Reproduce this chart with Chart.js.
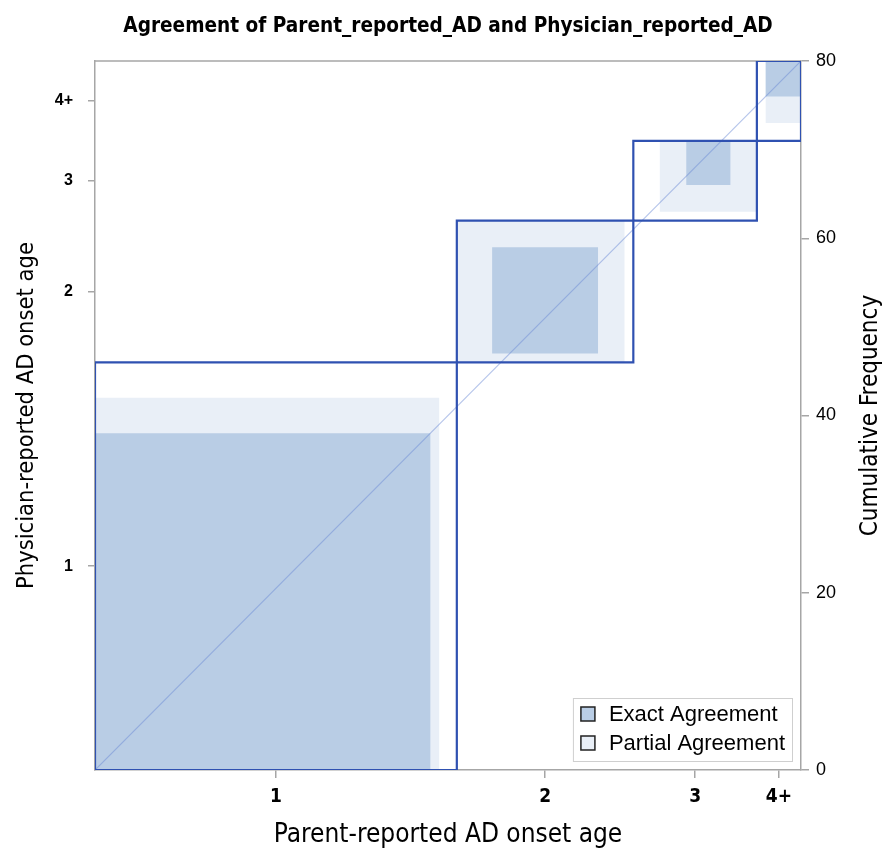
<!DOCTYPE html>
<html>
<head>
<meta charset="utf-8">
<script src="https://cdn.jsdelivr.net/npm/chart.js@4.4.1/dist/chart.umd.min.js"></script>
<style>
  html, body { margin: 0; padding: 0; background: #ffffff; }
  #wrap { width: 885px; height: 851px; }
</style>
</head>
<body>
<div id="wrap"><canvas id="chart" width="885" height="851"></canvas></div>
<script>
// Onset-age categories shared by both raters
const categories = ['1', '2', '3', '4+'];

// Cross-tabulated counts: one array per physician-reported category,
// entries ordered by parent-reported category 1, 2, 3, 4+
const physician1 = [38, 4, 3, 1];
const physician2 = [1, 12, 3, 0];
const physician3 = [1, 3, 5, 0];
const physician4 = [1, 1, 3, 4];

// Cumulative frequency ticks on the right axis
const freqTicks = [0, 20, 40, 60, 80];

const titleText = 'Agreement of Parent_reported_AD and Physician_reported_AD';
const xTitle = 'Parent-reported AD onset age';
const yTitle = 'Physician-reported AD onset age';
const y2Title = 'Cumulative Frequency';
const legendLabels = ['Exact Agreement', 'Partial Agreement'];

const NARROW = '"Liberation Sans Narrow", "DejaVu Sans Condensed", "Liberation Sans", sans-serif';
const SANS = '"Liberation Sans", Arial, sans-serif';

const COLOR_EXACT = '#b9cde5';
const COLOR_PARTIAL = '#e9eff7';
const COLOR_RECT = '#2f51b1';
const COLOR_AXIS = '#a6a6a6';

// ---- derived layout of the agreement chart ----
const table = [physician1, physician2, physician3, physician4];
const n = categories.length;
const rowTotals = table.map(r => r.reduce((a, b) => a + b, 0));                  // physician (y)
const colTotals = categories.map((_, j) => table.reduce((a, r) => a + r[j], 0)); // parent (x)
const total = rowTotals.reduce((a, b) => a + b, 0);

const xStart = [], yStart = [];
let cx = 0, cy = 0;
for (let i = 0; i < n; i++) {
  xStart.push(cx); yStart.push(cy);
  cx += colTotals[i]; cy += rowTotals[i];
}
const xMid = categories.map((_, i) => xStart[i] + colTotals[i] / 2);
const yMid = categories.map((_, i) => yStart[i] + rowTotals[i] / 2);

function box(x0, x1, y0, y1) {
  return [{x: x0, y: y0}, {x: x1, y: y0}, {x: x1, y: y1}, {x: x0, y: y1}, {x: x0, y: y0}];
}
function sumCol(j, from, to) { let s = 0; for (let k = from; k < to; k++) s += table[k][j]; return s; }
function sumRow(i, from, to) { let s = 0; for (let k = from; k < to; k++) s += table[i][k]; return s; }

const datasets = [];
for (let i = 0; i < n; i++) {
  const d = table[i][i];
  const ex0 = xStart[i] + sumCol(i, 0, i);
  const ey0 = yStart[i] + sumRow(i, 0, i);
  const ex1 = ex0 + d, ey1 = ey0 + d;
  const px0 = xStart[i] + sumCol(i, 0, Math.max(0, i - 1));
  const py0 = yStart[i] + sumRow(i, 0, Math.max(0, i - 1));
  const px1 = ex1 + (i + 1 < n ? table[i + 1][i] : 0);
  const py1 = ey1 + (i + 1 < n ? table[i][i + 1] : 0);

  datasets.push({
    label: 'partial-' + categories[i], data: box(px0, px1, py0, py1), order: 4,
    fill: 'shape', backgroundColor: COLOR_PARTIAL, borderColor: 'rgba(0,0,0,0)', borderWidth: 0
  });
  datasets.push({
    label: 'exact-' + categories[i], data: box(ex0, ex1, ey0, ey1), order: 3,
    fill: 'shape', backgroundColor: COLOR_EXACT, borderColor: 'rgba(0,0,0,0)', borderWidth: 0
  });
  datasets.push({
    label: 'cell-' + categories[i],
    data: box(xStart[i], xStart[i] + colTotals[i], yStart[i], yStart[i] + rowTotals[i]), order: 1,
    fill: false, borderColor: COLOR_RECT, borderWidth: 2.2
  });
}
// Diagonal reference line of perfect agreement
datasets.push({
  label: 'diagonal', data: [{x: 0, y: 0}, {x: total, y: total}], order: 2,
  fill: false, borderColor: 'rgba(110,140,215,0.5)', borderWidth: 1.2
});

// Frame, right-hand axis title and legend box
const decorations = {
  id: 'decorations',
  beforeDatasetsDraw(chart) {
    const {ctx, chartArea: a} = chart;
    ctx.save();
    ctx.strokeStyle = COLOR_AXIS;
    ctx.lineWidth = 1.5;
    ctx.beginPath();
    ctx.moveTo(a.left, a.top);
    ctx.lineTo(a.right, a.top);
    ctx.stroke();
    ctx.restore();
  },
  afterDraw(chart) {
    const {ctx, chartArea: a} = chart;
    ctx.save();
    // right axis title, reading bottom to top
    ctx.font = '24px ' + NARROW;
    ctx.fillStyle = '#000';
    ctx.textAlign = 'center';
    ctx.textBaseline = 'middle';
    ctx.translate(871, (a.top + a.bottom) / 2);
    ctx.rotate(-Math.PI / 2);
    ctx.fillText(y2Title, 0, 0);
    ctx.restore();

    // legend
    ctx.save();
    ctx.font = '22px ' + SANS;
    const tw = Math.max(...legendLabels.map(t => ctx.measureText(t).width));
    const w = 36 + tw + 7, h = 63;
    const lx = a.right - 9 - w, ly = a.bottom - 9 - h;
    ctx.fillStyle = '#ffffff';
    ctx.fillRect(lx, ly, w, h);
    ctx.strokeStyle = '#cfcfcf';
    ctx.lineWidth = 1;
    ctx.strokeRect(lx + 0.5, ly + 0.5, w, h);
    const fills = [COLOR_EXACT, COLOR_PARTIAL];
    legendLabels.forEach((t, k) => {
      const rowY = ly + 16 + k * 29;
      ctx.fillStyle = fills[k];
      ctx.fillRect(lx + 8, rowY - 7, 14, 14);
      ctx.strokeStyle = '#222';
      ctx.lineWidth = 1.5;
      ctx.strokeRect(lx + 8, rowY - 7, 14, 14);
      ctx.fillStyle = '#000';
      ctx.textBaseline = 'middle';
      ctx.textAlign = 'left';
      ctx.fillText(t, lx + 36, rowY + 1);
    });
    ctx.restore();
  }
};

new Chart(document.getElementById('chart'), {
  type: 'line',
  data: { datasets },
  options: {
    responsive: false,
    animation: false,
    events: [],
    layout: { padding: 0 },
    elements: { point: { radius: 0 }, line: { tension: 0 } },
    plugins: {
      legend: { display: false },
      tooltip: { enabled: false },
      title: {
        display: true, text: titleText, color: '#000', fullSize: false,
        font: { family: NARROW, size: 20.6, weight: 'bold', lineHeight: 1.2 },
        padding: { top: 14, bottom: 22.3 }
      }
    },
    scales: {
      x: {
        type: 'linear', position: 'bottom', min: 0, max: total,
        afterBuildTicks: s => { s.ticks = xMid.map(v => ({value: v})); },
        afterFit: s => { s.height = 81; },
        ticks: {
          autoSkip: false, maxRotation: 0, padding: 8, color: '#000',
          font: { family: NARROW, size: 19, weight: 'bold' },
          callback: (v, i) => categories[i]
        },
        grid: { drawOnChartArea: false, drawTicks: true, tickLength: 8, color: COLOR_AXIS, lineWidth: 1.5 },
        border: { display: true, color: COLOR_AXIS, width: 1.5 },
        title: { display: true, text: xTitle, color: '#000', font: { family: NARROW, size: 26 }, padding: { top: 0, bottom: 0 } }
      },
      y: {
        type: 'linear', position: 'left', min: 0, max: total,
        afterBuildTicks: s => { s.ticks = yMid.map(v => ({value: v})); },
        afterFit: s => { s.width = 95; },
        ticks: {
          autoSkip: false, padding: 15, color: '#000',
          font: { family: SANS, size: 16, weight: 'bold' },
          callback: (v, i) => categories[i]
        },
        grid: { drawOnChartArea: false, drawTicks: true, tickLength: 7, color: COLOR_AXIS, lineWidth: 1.5 },
        border: { display: true, color: COLOR_AXIS, width: 1.5 },
        title: { display: true, text: yTitle, color: '#000', font: { family: NARROW, size: 23.5 }, padding: { top: 13, bottom: 0 } }
      },
      y2: {
        type: 'linear', position: 'right', min: 0, max: total,
        afterBuildTicks: s => { s.ticks = freqTicks.map(v => ({value: v})); },
        afterFit: s => { s.width = 84; },
        ticks: {
          autoSkip: false, padding: 7, color: '#000',
          font: { family: SANS, size: 18 }
        },
        grid: { drawOnChartArea: false, drawTicks: true, tickLength: 8, color: COLOR_AXIS, lineWidth: 1.5 },
        border: { display: true, color: COLOR_AXIS, width: 1.5 },
        title: { display: false }
      }
    }
  },
  plugins: [decorations]
});
</script>
</body>
</html>
